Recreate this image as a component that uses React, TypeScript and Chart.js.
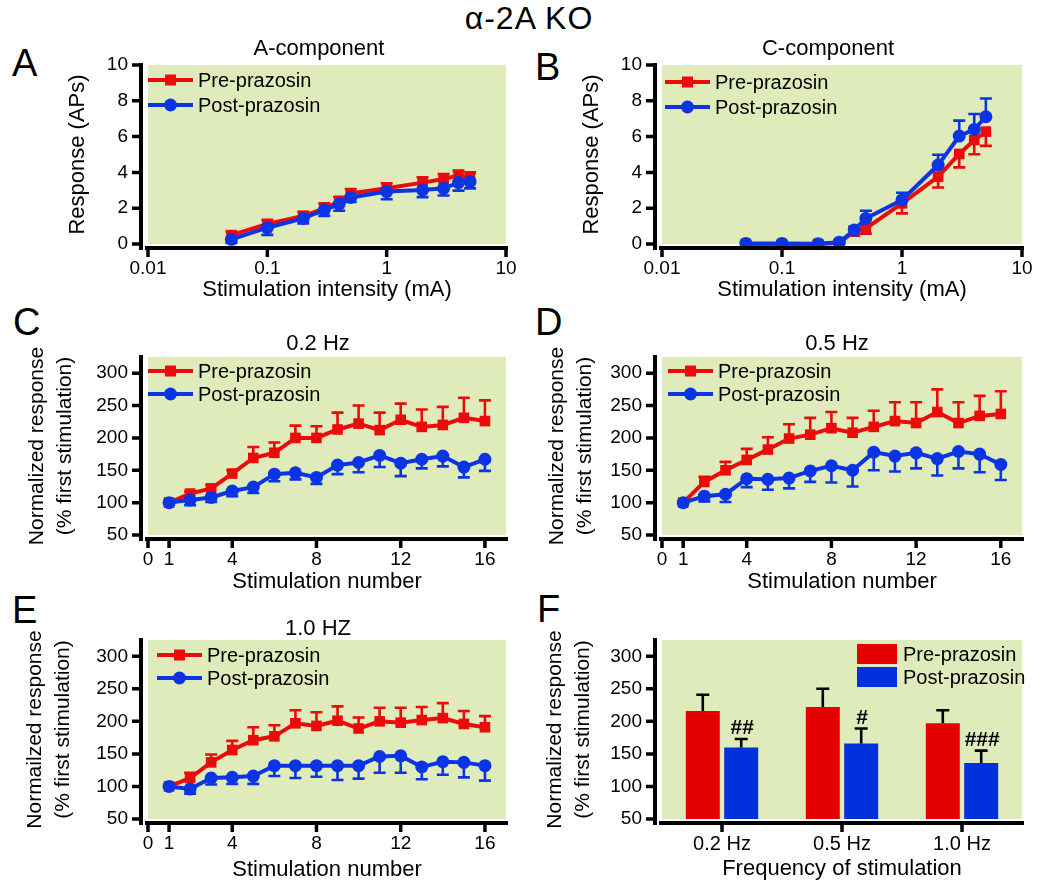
import React, { useEffect, useRef } from "react";
import { Chart, registerables } from "chart.js";

Chart.register(...registerables);

const FONT = "'Liberation Sans', Arial, Helvetica, sans-serif";
const RED = "#EC0B0B";
const BLUE = "#0B34E4";
const BAR_RED = "#E50000";
const BAR_BLUE = "#0131DC";
const PLOT_BG = "#DFEBBA";

// ---------------- data ----------------
const intensityMA = [0.05, 0.1, 0.2, 0.3, 0.4, 0.5, 1, 2, 3, 4, 5];
const intensityTicks = [0.01, 0.1, 1, 10];
const apsTicks = [0, 2, 4, 6, 8, 10];

// A-component
const aPre = [0.5, 1.12, 1.56, 1.99, 2.36, 2.83, 3.11, 3.43, 3.63, 3.82, 3.72];
const aPreErr = [0.2, 0.22, 0.24, 0.28, 0.28, 0.24, 0.28, 0.3, 0.28, 0.28, 0.28];
const aPost = [0.26, 0.91, 1.43, 1.9, 2.23, 2.6, 2.93, 3.02, 3.11, 3.43, 3.48];
const aPostErr = [0.2, 0.4, 0.28, 0.33, 0.37, 0.25, 0.43, 0.4, 0.4, 0.45, 0.37];

// C-component
const cPre = [0, 0, 0, 0.05, 0.72, 0.87, 2.27, 3.76, 5.03, 5.81, 6.28];
const cPreErr = [0, 0, 0, 0.05, 0.25, 0.3, 0.56, 0.6, 0.75, 0.8, 0.8];
const cPost = [0.03, 0.03, 0.02, 0.1, 0.78, 1.43, 2.46, 4.41, 6.03, 6.4, 7.11];
const cPostErr = [0.05, 0.05, 0.05, 0.1, 0.2, 0.43, 0.4, 0.58, 0.86, 0.86, 1.02];

const stimNumber = [1, 2, 3, 4, 5, 6, 7, 8, 9, 10, 11, 12, 13, 14, 15, 16];
const stimTicks = [0, 1, 4, 8, 12, 16];
const normTicks = [50, 100, 150, 200, 250, 300];

// 0.2 Hz
const hz02Pre = [100, 114, 122, 145, 169, 177, 200, 200, 213, 222, 212, 228, 217, 220, 231, 226];
const hz02PreErr = [0, 3, 5, 5, 17, 16, 19, 18, 26, 28, 27, 25, 27, 28, 31, 32];
const hz02Post = [100, 104, 108, 118, 124, 144, 146, 139, 158, 162, 173, 161, 167, 172, 155, 167];
const hz02PostErr = [0, 8, 7, 8, 9, 11, 10, 10, 14, 15, 18, 20, 14, 16, 16, 18];

// 0.5 Hz
const hz05Pre = [100, 132, 150, 166, 182, 199, 205, 215, 208, 217, 226, 223, 240, 223, 234, 237];
const hz05PreErr = [0, 8, 13, 17, 19, 22, 26, 25, 23, 25, 29, 32, 35, 32, 31, 35];
const hz05Post = [100, 110, 113, 137, 136, 138, 149, 157, 150, 178, 172, 177, 168, 179, 175, 159];
const hz05PostErr = [0, 8, 12, 13, 16, 16, 17, 26, 25, 28, 24, 24, 26, 26, 28, 24];

// 1.0 Hz
const hz10Pre = [100, 113, 137, 156, 171, 177, 197, 193, 201, 189, 200, 198, 202, 205, 196, 191];
const hz10PreErr = [0, 8, 12, 14, 20, 17, 20, 21, 22, 17, 21, 23, 20, 23, 20, 17];
const hz10Post = [100, 96, 113, 114, 116, 132, 132, 132, 132, 132, 146, 147, 130, 138, 137, 132];
const hz10PostErr = [0, 7, 10, 10, 12, 16, 19, 17, 22, 20, 25, 26, 19, 20, 23, 23];

// Frequency summary
const freqLabels = ["0.2 Hz", "0.5 Hz", "1.0 Hz"];
const freqPre = [216, 222, 197];
const freqPreErr = [25, 28, 20];
const freqPost = [160, 166, 136];
const freqPostErr = [13, 23, 19];
const freqSig = ["##", "#", "###"];

const seriesNames = ["Pre-prazosin", "Post-prazosin"];

// ---------------- helpers ----------------
function pts(xs: number[], ys: number[]) {
  return xs.map((x, i) => ({ x, y: ys[i] }));
}

function lineSets(xs: number[], pre: number[], preErr: number[], post: number[], postErr: number[], preDir: number, postDir: number) {
  return [
    {
      label: seriesNames[0], data: pts(xs, pre), borderColor: RED, backgroundColor: RED,
      borderWidth: 4, pointStyle: "rect", pointRadius: 7.5, pointBorderWidth: 0,
      pointBackgroundColor: RED, tension: 0, clip: false, order: 1,
      errors: preErr, errDir: preDir,
    },
    {
      label: seriesNames[1], data: pts(xs, post), borderColor: BLUE, backgroundColor: BLUE,
      borderWidth: 4, pointStyle: "circle", pointRadius: 6.5, pointBorderWidth: 0,
      pointBackgroundColor: BLUE, tension: 0, clip: false, order: 0,
      errors: postErr, errDir: postDir,
    },
  ];
}

const specs: any[] = [
  {
    box: [0, 30, 530, 280], area: [148, 65, 506, 244], kind: "line",
    xType: "logarithmic", xMin: 0.01, xMax: 10, xTicks: intensityTicks,
    yMin: 0, yMax: 10, yTicks: apsTicks,
    xTitle: "Stimulation intensity (mA)", xTitlePad: 6,
    yTitle: "Response (APs)", yTitlePad: 64, yTitleSize: 22,
    title: "A-component", titleDx: -8, titleDy: 10,
    legend: { dx: 0, dy: 15, gap: 25 },
    datasets: lineSets(intensityMA, aPre, aPreErr, aPost, aPostErr, 1, -1),
  },
  {
    box: [525, 30, 525, 280], area: [662, 65, 1022, 244], kind: "line",
    xType: "logarithmic", xMin: 0.01, xMax: 10, xTicks: intensityTicks,
    yMin: 0, yMax: 10, yTicks: apsTicks,
    xTitle: "Stimulation intensity (mA)", xTitlePad: 6,
    yTitle: "Response (APs)", yTitlePad: 53, yTitleSize: 22,
    title: "C-component", titleDx: -14, titleDy: 10,
    legend: { dx: 3, dy: 17, gap: 25 },
    datasets: lineSets(intensityMA, cPre, cPreErr, cPost, cPostErr, -1, 1),
  },
  {
    box: [0, 310, 530, 290], area: [148, 357, 506, 535], kind: "line",
    xType: "linear", xMin: 0, xMax: 17, xTicks: stimTicks,
    yMin: 50, yMax: 325, yTicks: normTicks,
    xTitle: "Stimulation number", xTitlePad: 4,
    yTitle: ["Normalized response", "(% first stimulation)"], yTitlePad: 23, yTitleSize: 21,
    title: "0.2 Hz", titleDx: -9, titleDy: 7,
    legend: { dx: 0, dy: 14, gap: 23 },
    datasets: lineSets(stimNumber, hz02Pre, hz02PreErr, hz02Post, hz02PostErr, 1, -1),
  },
  {
    box: [525, 310, 525, 290], area: [662, 357, 1022, 535], kind: "line",
    xType: "linear", xMin: 0, xMax: 17, xTicks: stimTicks,
    yMin: 50, yMax: 325, yTicks: normTicks,
    xTitle: "Stimulation number", xTitlePad: 4,
    yTitle: ["Normalized response", "(% first stimulation)"], yTitlePad: 18, yTitleSize: 21,
    title: "0.5 Hz", titleDx: -5, titleDy: 7,
    legend: { dx: 6, dy: 14, gap: 23 },
    datasets: lineSets(stimNumber, hz05Pre, hz05PreErr, hz05Post, hz05PostErr, 1, -1),
  },
  {
    box: [0, 600, 530, 291], area: [148, 640, 506, 819], kind: "line",
    xType: "linear", xMin: 0, xMax: 17, xTicks: stimTicks,
    yMin: 50, yMax: 325, yTicks: normTicks,
    xTitle: "Stimulation number", xTitlePad: 7,
    yTitle: ["Normailzed response", "(% first stimulation)"], yTitlePad: 21, yTitleSize: 21,
    title: "1.0 HZ", titleDx: -9, titleDy: 5,
    legend: { dx: 9, dy: 15, gap: 23 },
    datasets: lineSets(stimNumber, hz10Pre, hz10PreErr, hz10Post, hz10PostErr, 1, -1),
  },
  {
    box: [525, 600, 525, 291], area: [662, 640, 1022, 819], kind: "bar",
    xType: "category", labels: freqLabels,
    yMin: 50, yMax: 325, yTicks: normTicks,
    xTitle: "Frequency of stimulation", xTitlePad: 8,
    yTitle: ["Normalized response", "(% first stimulation)"], yTitlePad: 16, yTitleSize: 21,
    title: null,
    legend: null,
    sig: freqSig,
    datasets: [
      {
        label: seriesNames[0], data: freqPre, backgroundColor: BAR_RED, borderWidth: 0,
        categoryPercentage: 0.64, barPercentage: 0.885, errors: freqPreErr, errDir: 1,
      },
      {
        label: seriesNames[1], data: freqPost, backgroundColor: BAR_BLUE, borderWidth: 0,
        categoryPercentage: 0.64, barPercentage: 0.885, errors: freqPostErr, errDir: 1,
      },
    ],
  },
];

function drawErrors(chart: any, index: number, isBar: boolean) {
  const ds = chart.data.datasets[index];
  if (!ds || !ds.errors) return;
  const meta = chart.getDatasetMeta(index);
  const ys = chart.scales.y;
  const ctx = chart.ctx;
  ctx.save();
  ctx.strokeStyle = isBar ? "#000" : ds.borderColor;
  ctx.lineWidth = 2.6;
  const half = isBar ? 6.5 : 6;
  meta.data.forEach((el: any, j: number) => {
    const raw = ds.data[j];
    const v = typeof raw === "number" ? raw : raw.y;
    const e = ds.errors[j];
    if (!e) return;
    const y2 = ys.getPixelForValue(v + ds.errDir * e);
    ctx.beginPath();
    ctx.moveTo(el.x, el.y);
    ctx.lineTo(el.x, y2);
    ctx.moveTo(el.x - half, y2);
    ctx.lineTo(el.x + half, y2);
    ctx.stroke();
  });
  ctx.restore();
}

function makeChart(canvas: HTMLCanvasElement, spec: any) {
  const [bx, by, bw, bh] = spec.box;
  const [al, at, ar, ab] = spec.area;
  const yW = al - bx;
  const padTop = at - by;
  const padRight = bx + bw - ar;
  const xH = by + bh - ab;
  const tickFont = { family: FONT, size: 19 };

  const plugin = {
    id: "figureDecor",
    beforeDraw(chart: any) {
      const { ctx, chartArea: a } = chart;
      ctx.save();
      ctx.fillStyle = PLOT_BG;
      ctx.fillRect(a.left, a.top, a.right - a.left, a.bottom - a.top);
      ctx.restore();
    },
    beforeDatasetDraw(chart: any, args: any) {
      if (spec.kind === "line") drawErrors(chart, args.index, false);
    },
    afterDatasetDraw(chart: any, args: any) {
      if (spec.kind === "bar") drawErrors(chart, args.index, true);
    },
    afterDraw(chart: any) {
      const { ctx, chartArea: a } = chart;
      const xs = chart.scales.x;
      const ys = chart.scales.y;
      const axX = a.left - 7;
      const axY = a.bottom + 4;
      ctx.save();
      ctx.strokeStyle = "#000";
      ctx.lineCap = "butt";
      // y axis
      ctx.lineWidth = 4;
      ctx.beginPath();
      ctx.moveTo(axX, a.top - 2);
      ctx.lineTo(axX, axY + 2);
      ctx.stroke();
      ctx.lineWidth = 3.5;
      ctx.beginPath();
      ys.ticks.forEach((t: any, i: number) => {
        const py = ys.getPixelForTick(i);
        ctx.moveTo(axX, py);
        ctx.lineTo(axX - 9, py);
      });
      ctx.stroke();
      // x axis
      ctx.lineWidth = 4;
      ctx.beginPath();
      ctx.moveTo(a.left - 3, axY);
      ctx.lineTo(a.right + 2, axY);
      ctx.stroke();
      ctx.lineWidth = 3.5;
      ctx.beginPath();
      xs.ticks.forEach((t: any, i: number) => {
        const px = xs.getPixelForTick(i);
        ctx.moveTo(px, axY);
        ctx.lineTo(px, axY + 9);
      });
      ctx.stroke();

      // panel title
      if (spec.title) {
        ctx.fillStyle = "#000";
        ctx.font = `22px ${FONT}`;
        ctx.textAlign = "center";
        ctx.textBaseline = "alphabetic";
        ctx.fillText(spec.title, (a.left + a.right) / 2 + spec.titleDx, a.top - spec.titleDy);
      }

      // legend
      ctx.font = `20px ${FONT}`;
      ctx.textBaseline = "middle";
      ctx.textAlign = "left";
      if (spec.kind === "line" && spec.legend) {
        const L = spec.legend;
        chart.data.datasets.forEach((ds: any, i: number) => {
          const y = a.top + L.dy + i * L.gap;
          const x0 = a.left + L.dx;
          const len = 45;
          ctx.strokeStyle = ds.borderColor;
          ctx.lineWidth = 4;
          ctx.beginPath();
          ctx.moveTo(x0, y);
          ctx.lineTo(x0 + len, y);
          ctx.stroke();
          ctx.fillStyle = ds.borderColor;
          const cx = x0 + len / 2;
          if (ds.pointStyle === "rect") {
            ctx.fillRect(cx - 5.5, y - 5.5, 11, 11);
          } else {
            ctx.beginPath();
            ctx.arc(cx, y, 6.5, 0, Math.PI * 2);
            ctx.fill();
          }
          ctx.fillStyle = "#000";
          ctx.fillText(ds.label, x0 + len + 5, y + 1);
        });
      }
      if (spec.kind === "bar") {
        chart.data.datasets.forEach((ds: any, i: number) => {
          const top = a.top + 4 + i * 23;
          const left = a.right - 165;
          ctx.fillStyle = ds.backgroundColor;
          ctx.fillRect(left, top, 40, 20);
          ctx.fillStyle = "#000";
          ctx.fillText(ds.label, left + 46, top + 11);
        });
        // significance marks above the post-prazosin bars
        if (spec.sig) {
          const ds = chart.data.datasets[1];
          const meta = chart.getDatasetMeta(1);
          ctx.font = `bold 21px ${FONT}`;
          ctx.textAlign = "center";
          ctx.textBaseline = "alphabetic";
          meta.data.forEach((el: any, j: number) => {
            const yTop = ys.getPixelForValue(ds.data[j] + ds.errors[j]);
            ctx.fillText(spec.sig[j], el.x + 1, yTop - 5);
          });
        }
      }
      ctx.restore();
    },
  };

  const xScale: any = {
    type: spec.xType,
    position: "bottom",
    grid: { display: false, drawTicks: false },
    border: { display: false },
    ticks: {
      padding: 13,
      font: spec.xType === "category" ? { family: FONT, size: 20 } : tickFont,
      color: "#000",
      autoSkip: false,
      maxRotation: 0,
      minRotation: 0,
    },
    afterFit: (s: any) => { s.height = xH; },
    title: {
      display: true, text: spec.xTitle, color: "#000",
      font: { family: FONT, size: 22, lineHeight: "28px" },
      padding: { top: 0, bottom: spec.xTitlePad },
    },
  };
  if (spec.xType !== "category") {
    xScale.min = spec.xMin;
    xScale.max = spec.xMax;
    xScale.afterBuildTicks = (s: any) => { s.ticks = spec.xTicks.map((v: number) => ({ value: v })); };
    xScale.ticks.callback = (v: any) => String(v);
  } else {
    xScale.offset = true;
  }

  const yScale: any = {
    type: "linear",
    position: "left",
    min: spec.yMin,
    max: spec.yMax,
    grid: { display: false, drawTicks: false },
    border: { display: false },
    ticks: { padding: 20, font: tickFont, color: "#000", autoSkip: false, callback: (v: any) => String(v) },
    afterBuildTicks: (s: any) => { s.ticks = spec.yTicks.map((v: number) => ({ value: v })); },
    afterFit: (s: any) => { s.width = yW; },
    title: {
      display: true, text: spec.yTitle, color: "#000",
      font: { family: FONT, size: spec.yTitleSize, lineHeight: "28px" },
      padding: { top: spec.yTitlePad, bottom: 0 },
    },
  };

  const data: any = spec.kind === "bar"
    ? { labels: spec.labels, datasets: spec.datasets }
    : { datasets: spec.datasets };

  return new Chart(canvas, {
    type: spec.kind,
    data,
    options: {
      animation: false,
      responsive: false,
      maintainAspectRatio: false,
      devicePixelRatio: 1,
      layout: { padding: { left: 0, top: padTop, right: padRight, bottom: 0 } },
      plugins: { legend: { display: false }, tooltip: { enabled: false }, title: { display: false } },
      scales: { x: xScale, y: yScale },
    } as any,
    plugins: [plugin as any],
  });
}

const panelLetters = [
  { t: "A", x: 12, y: 44 },
  { t: "B", x: 535, y: 48 },
  { t: "C", x: 13, y: 303 },
  { t: "D", x: 535, y: 303 },
  { t: "E", x: 12, y: 591 },
  { t: "F", x: 537, y: 590 },
];

export default function App() {
  const canvases = useRef<(HTMLCanvasElement | null)[]>([]);

  useEffect(() => {
    const charts = specs.map((s, i) => makeChart(canvases.current[i] as HTMLCanvasElement, s));
    return () => charts.forEach((c) => c.destroy());
  }, []);

  return (
    <div
      style={{
        position: "absolute", left: 0, top: 0, width: 1050, height: 891,
        background: "#fff", overflow: "hidden", fontFamily: FONT, color: "#000",
      }}
    >
      <div
        style={{
          position: "absolute", left: 0, top: 2, width: 1058, textAlign: "center",
          fontSize: 32, lineHeight: "32px", letterSpacing: 1,
        }}
      >
        α-2A KO
      </div>
      {panelLetters.map((p) => (
        <div
          key={p.t}
          style={{ position: "absolute", left: p.x, top: p.y, fontSize: 38, lineHeight: "38px" }}
        >
          {p.t}
        </div>
      ))}
      {specs.map((s, i) => (
        <canvas
          key={i}
          ref={(el) => { canvases.current[i] = el; }}
          width={s.box[2]}
          height={s.box[3]}
          style={{ position: "absolute", left: s.box[0], top: s.box[1], width: s.box[2], height: s.box[3] }}
        />
      ))}
    </div>
  );
}
